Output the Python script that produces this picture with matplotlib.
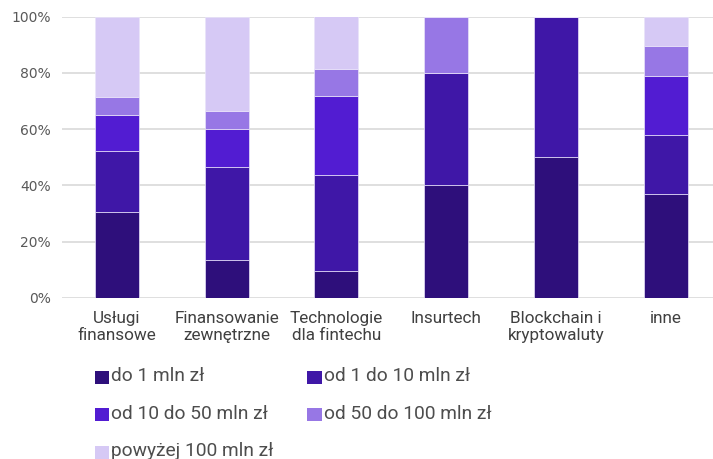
import numpy as np
import matplotlib
matplotlib.use("Agg")
import matplotlib.pyplot as plt
from matplotlib.patches import Patch, Rectangle
from matplotlib.legend_handler import HandlerPatch

# kategorie i udziały (%) wg wielkości finansowania
categories = ["Usługi\nfinansowe", "Finansowanie\nzewnętrzne", "Technologie\ndla fintechu",
              "Insurtech", "Blockchain i\nkryptowaluty", "inne"]
series_names = ["do 1 mln zł", "od 1 do 10 mln zł", "od 10 do 50 mln zł",
                "od 50 do 100 mln zł", "powyżej 100 mln zł"]
do_1 = [30.4, 13.3, 9.4, 40.0, 50.0, 36.8]
od_1_do_10 = [21.7, 33.3, 34.4, 40.0, 50.0, 21.1]
od_10_do_50 = [13.0, 13.3, 28.1, 0.0, 0.0, 21.1]
od_50_do_100 = [6.5, 6.7, 9.4, 20.0, 0.0, 10.5]
powyzej_100 = [28.3, 33.3, 18.8, 0.0, 0.0, 10.5]
y_ticks = [0, 20, 40, 60, 80, 100]

series = [do_1, od_1_do_10, od_10_do_50, od_50_do_100, powyzej_100]
colors = ["#2E0F7B", "#3F17A7", "#521CD2", "#9777E5", "#D6C9F5"]

plt.rcParams["font.family"] = ["Roboto", "DejaVu Sans"]

fig = plt.figure(figsize=(7.13, 4.59), dpi=100)
ax = fig.add_axes([61.7 / 713, 1 - 297.7 / 459, 659.4 / 713, 281 / 459])

x = np.arange(len(categories))
bottom = np.zeros(len(categories))
for vals, col in zip(series, colors):
    v = np.array(vals)
    ax.bar(x, v, 0.4, bottom=bottom, color=col, edgecolor="#E9E3FA", linewidth=0.5, zorder=3)
    bottom += v

ax.set_xlim(-0.5, 5.5)
ax.set_ylim(0, 100)
ax.set_yticks(y_ticks)
ax.set_yticklabels([f"{t}%" for t in y_ticks], family="DejaVu Sans", fontsize=10, color="#595959")
ax.set_xticks(x)
ax.set_xticklabels(categories, fontsize=12.3, color="#404040", linespacing=1.15)
ax.tick_params(axis="y", length=0, pad=8)
ax.tick_params(axis="x", length=0, pad=9.5)

ax.grid(axis="y", color="#D9D9D9", linewidth=1.2, zorder=0)
ax.set_axisbelow(True)
for s in ax.spines.values():
    s.set_visible(False)


# kwadracik legendy opuszczony do linii bazowej tekstu
def square(legend, orig_handle, xdescent, ydescent, width, height, fontsize):
    return Rectangle((-xdescent, -ydescent - 0.15 * fontsize), width, height)


# legenda wierszami: kolejność dopasowana do ncol=2
handles = [Patch(facecolor=c, edgecolor="none") for c in colors]
order = [0, 2, 4, 1, 3]
fig.legend([handles[i] for i in order], [series_names[i] for i in order],
           loc="upper left", bbox_to_anchor=(95 / 713, 1 - 367 / 459), ncol=2,
           frameon=False, fontsize=13.8, handlelength=0.74, handleheight=0.68,
           handletextpad=0.12, columnspacing=1.75, labelspacing=1.02,
           borderpad=0, borderaxespad=0, labelcolor="#4D4D4D",
           handler_map={Patch: HandlerPatch(patch_func=square)})

fig.savefig("out.png", dpi=100)
